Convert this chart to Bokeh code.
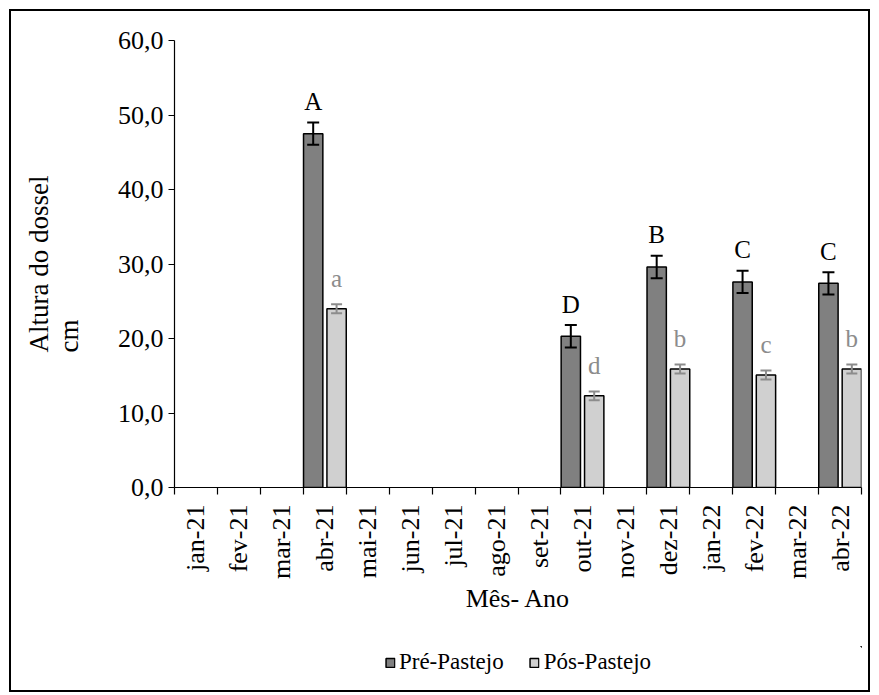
from bokeh.plotting import figure
from bokeh.layouts import column
from bokeh.models import (ColumnDataSource, Range1d, FixedTicker, Whisker, TeeHead,
                          Legend, LegendItem, Title)
from bokeh.core.properties import value
from bokeh.embed import file_html
from bokeh.resources import INLINE

# ---- data ----
months = ["jan-21", "fev-21", "mar-21", "abr-21", "mai-21", "jun-21", "jul-21", "ago-21",
          "set-21", "out-21", "nov-21", "dez-21", "jan-22", "fev-22", "mar-22", "abr-22"]
sample_months = ["abr-21", "out-21", "dez-21", "fev-22", "abr-22"]
pre_values = [47.5, 20.3, 29.6, 27.6, 27.4]
pre_errors = [1.5, 1.5, 1.5, 1.5, 1.5]
pos_values = [24.0, 12.3, 15.9, 15.1, 15.9]
pos_errors = [0.6, 0.6, 0.6, 0.6, 0.6]
pre_letters = ["A", "D", "B", "C", "C"]
pos_letters = ["a", "d", "b", "c", "b"]
y_ticks = [0, 10, 20, 30, 40, 50, 60]
y_tick_labels = ["0,0", "10,0", "20,0", "30,0", "40,0", "50,0", "60,0"]
y_title_lines = ["Altura do dossel", "cm"]
x_title = "Mês- Ano"
series_names = ["Pré-Pastejo", "Pós-Pastejo"]

FONT = "Liberation Serif"
PRE_COLOR = "#808080"
POS_COLOR = "#d0d0d0"
POS_TEXT = "#8c8c8c"
W = 857

idx = [months.index(m) for m in sample_months]
pre_src = ColumnDataSource(dict(
    x=[i + 0.23 for i in idx], top=pre_values,
    upper=[v + e for v, e in zip(pre_values, pre_errors)],
    lower=[v - e for v, e in zip(pre_values, pre_errors)],
    label=pre_letters))
pos_src = ColumnDataSource(dict(
    x=[i + 0.775 for i in idx], top=pos_values,
    upper=[v + e for v, e in zip(pos_values, pos_errors)],
    lower=[v - e for v, e in zip(pos_values, pos_errors)],
    label=pos_letters))

p = figure(width=W, height=635, output_backend="svg", toolbar_location=None,
           x_range=Range1d(0, len(months)), y_range=Range1d(0, 60),
           min_border_left=163, min_border_right=7, min_border_top=29, min_border_bottom=159)
p.outline_line_color = None
p.xgrid.visible = False
p.ygrid.visible = False

r_pre = p.vbar(x="x", top="top", width=0.45, source=pre_src,
               fill_color=PRE_COLOR, line_color="black", line_width=1.5)
r_pos = p.vbar(x="x", top="top", width=0.45, source=pos_src,
               fill_color=POS_COLOR, line_color="black", line_width=1.5)

p.add_layout(Whisker(base="x", upper="upper", lower="lower", source=pre_src, level="annotation",
                     line_color="black", line_width=2,
                     upper_head=TeeHead(size=12, line_color="black", line_width=2),
                     lower_head=TeeHead(size=12, line_color="black", line_width=2)))
p.add_layout(Whisker(base="x", upper="upper", lower="lower", source=pos_src, level="annotation",
                     line_color=POS_TEXT, line_width=2,
                     upper_head=TeeHead(size=11, line_color=POS_TEXT, line_width=2),
                     lower_head=TeeHead(size=11, line_color=POS_TEXT, line_width=2)))

p.text(x="x", y="upper", text="label", source=pre_src, text_font=value(FONT),
       text_font_size="25px", text_align="center", text_baseline="alphabetic",
       text_color="black", y_offset=-21)
p.text(x="x", y="upper", text="label", source=pos_src, text_font=value(FONT),
       text_font_size="25px", text_align="center", text_baseline="alphabetic",
       text_color=POS_TEXT, y_offset=-26)

# y axis
ya = p.yaxis[0]
ya.ticker = FixedTicker(ticks=y_ticks)
ya.major_label_overrides = {t: l for t, l in zip(y_ticks, y_tick_labels)}
ya.major_label_text_font = FONT
ya.major_label_text_font_size = "26px"
ya.major_label_text_color = "black"
ya.major_label_standoff = 5
ya.major_tick_in = 0
ya.major_tick_out = 6
ya.minor_tick_line_color = None
ya.axis_line_width = 1.2
ya.axis_line_color = "black"
ya.major_tick_line_width = 1.2
ya.major_tick_line_color = "black"
# blank spacer label to push the title away from the tick labels
ya.axis_label = " "
ya.axis_label_text_font_size = "1px"
ya.axis_label_standoff = 22

# y axis title (two lines), shifted upward like the reference
p.add_layout(Title(text="\n".join(y_title_lines), align="center", offset=28,
                   text_font=FONT, text_font_size="27px", text_font_style="normal",
                   text_color="black", standoff=9), "left")

# x axis
xa = p.xaxis[0]
centers = [i + 0.5 for i in range(len(months))]
xa.ticker = FixedTicker(ticks=centers, minor_ticks=list(range(len(months) + 1)))
xa.major_label_overrides = {c: m for c, m in zip(centers, months)}
xa.major_label_orientation = 3.14159265 / 2
xa.major_label_text_font = FONT
xa.major_label_text_font_size = "26px"
xa.major_label_text_color = "black"
xa.major_label_standoff = 10
xa.major_tick_line_color = None
xa.minor_tick_in = 0
xa.minor_tick_out = 7
xa.minor_tick_line_width = 1.2
xa.minor_tick_line_color = "black"
xa.axis_line_width = 1.2
xa.axis_line_color = "black"
xa.axis_label = x_title
xa.axis_label_text_font = FONT
xa.axis_label_text_font_size = "26px"
xa.axis_label_text_color = "black"
xa.axis_label_text_font_style = "normal"
xa.axis_label_standoff = 2

# legend strip below the chart (swatch renderers share the bar sources; their bars
# fall entirely outside this strip's ranges, so only the legend swatches show)
leg = figure(width=W, height=44, output_backend="svg", toolbar_location=None,
             x_range=Range1d(-2, -1), y_range=Range1d(-2, -1),
             x_axis_location=None, y_axis_location=None,
             min_border_left=34, min_border_right=0, min_border_top=0, min_border_bottom=12)
leg.outline_line_color = None
leg.xgrid.visible = False
leg.ygrid.visible = False
k_pre = leg.vbar(x="x", top="top", width=0.45, source=pre_src,
                 fill_color=PRE_COLOR, line_color="black", line_width=1.5)
k_pos = leg.vbar(x="x", top="top", width=0.45, source=pos_src,
                 fill_color=POS_COLOR, line_color="black", line_width=1.5)
legend = Legend(items=[LegendItem(label=series_names[0], renderers=[k_pre]),
                       LegendItem(label=series_names[1], renderers=[k_pos])],
                orientation="horizontal", location="center",
                label_text_font=FONT, label_text_font_size="23px", label_text_color="black",
                glyph_width=11, glyph_height=11, spacing=25, label_standoff=4,
                border_line_color=None, background_fill_alpha=0,
                margin=0, padding=3)
leg.add_layout(legend)

layout = column(p, leg, margin=(11, 0, 0, 11),
                styles={"outline": "2px solid black"})

open("out.html", "w").write(file_html(layout, INLINE))
